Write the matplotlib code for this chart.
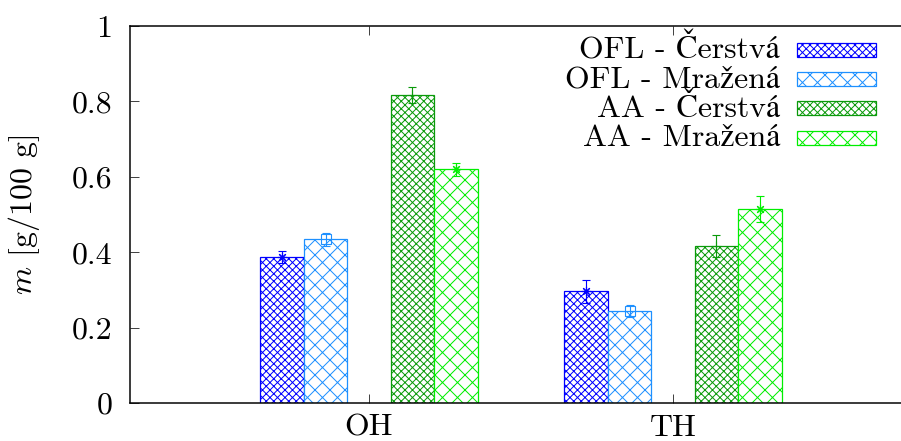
import matplotlib
matplotlib.use('Agg')
import matplotlib.pyplot as plt
from matplotlib.patches import Rectangle
import numpy as np

# data
groups = ['OH', 'TH']
labels = ['OFL - Čerstvá', 'OFL - Mražená', 'AA - Čerstvá', 'AA - Mražená']
ofl_fresh = [0.388, 0.296]
ofl_frozen = [0.434, 0.243]
aa_fresh = [0.817, 0.417]
aa_frozen = [0.620, 0.514]
ofl_fresh_err = [0.016, 0.030]
ofl_frozen_err = [0.018, 0.016]
aa_fresh_err = [0.020, 0.029]
aa_frozen_err = [0.017, 0.035]
yticks = [0, 0.2, 0.4, 0.6, 0.8, 1]
ytick_labels = ['0', '0.2', '0.4', '0.6', '0.8', '1']

plt.rcParams['font.family'] = ['cmr10', 'STIXGeneral']
plt.rcParams['mathtext.fontset'] = 'cm'
plt.rcParams['axes.formatter.use_mathtext'] = True
plt.rcParams['hatch.linewidth'] = 0.8

DPI = 90
W, H = 901, 441
FS = 25.5
fig = plt.figure(figsize=(W / DPI, H / DPI), dpi=DPI)
ax = fig.add_axes([130 / W, 1 - 403 / H, 1 - 130 / W, (403 - 26) / H])

colors = ['#0000ff', '#1e90ff', '#0a9a0a', '#00ee00']
hatches = ['xxxx', 'xx', 'xxxx', 'xx']
markers = [(8, 2, 0), 's', '+', (8, 2, 0)]
offsets = [-2, -1, 1, 2]
values = [ofl_fresh, ofl_frozen, aa_fresh, aa_frozen]
errors = [ofl_fresh_err, ofl_frozen_err, aa_fresh_err, aa_frozen_err]

x = np.arange(len(groups))
w = 1 / 7
for vals, errs, c, h, m, off in zip(values, errors, colors, hatches, markers, offsets):
    xp = x + off * w
    ax.bar(xp, vals, w, facecolor='white', edgecolor=c, hatch=h, linewidth=1.0)
    ax.errorbar(xp, vals, yerr=errs, fmt='none', ecolor=c, elinewidth=0.9,
                capsize=3.5, capthick=0.9)
    ax.plot(xp, vals, linestyle='none', marker=m, color=c, ms=7.5,
            mfc='none', mew=0.9)

ax.set_xlim(-0.786, 1.75)
ax.set_ylim(0, 1)
ax.set_xticks(x)
ax.set_xticklabels(groups, fontsize=FS)
ax.set_yticks(yticks)
ax.set_yticklabels(ytick_labels, fontsize=FS)
ax.tick_params(axis='both', direction='in', length=7, width=0.8, color='#444444')
ax.tick_params(axis='x', top=True, pad=8.5)
ax.tick_params(axis='y', pad=14)
ax.spines['right'].set_visible(False)
for s in ['left', 'bottom', 'top']:
    ax.spines[s].set_linewidth(1.2)

ax.set_ylabel('$m$ [g/100 g]', fontsize=FS)
ax.yaxis.set_label_coords(-0.114, 0.5)

# key, drawn by hand in pixel positions like the gnuplot key
for i, (lab, c, h) in enumerate(zip(labels, colors, hatches)):
    top = 42.7 + 29.3 * i
    rect = Rectangle((797 / W, 1 - (top + 14) / H), 79 / W, 14 / H,
                     transform=fig.transFigure, facecolor='white',
                     edgecolor=c, hatch=h, linewidth=1.0)
    fig.add_artist(rect)
    fig.text(780 / W, 1 - (58.3 + 29.2 * i) / H, lab, ha='right',
             va='baseline', fontsize=FS)

fig.savefig('out.png', dpi=DPI)
